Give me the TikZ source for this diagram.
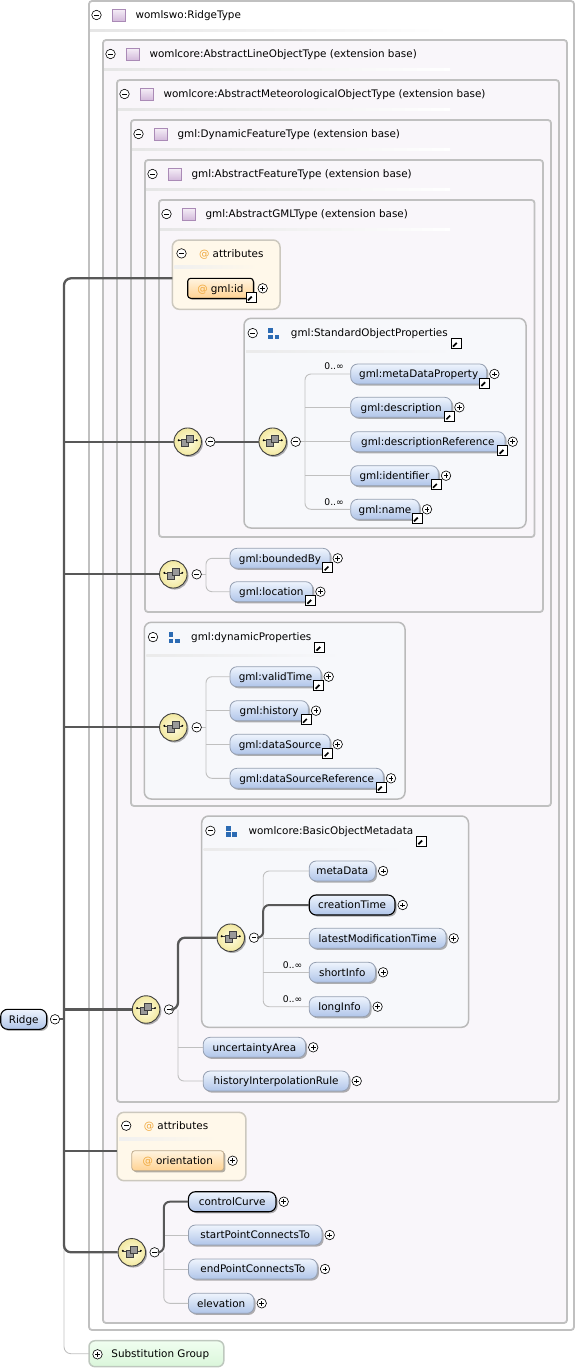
\documentclass[tikz,border=0pt]{standalone}
\usepackage{fontspec}
\setmainfont{DejaVu Sans}
\usetikzlibrary{shadows}
\definecolor{boxline}{RGB}{192,192,192}
\definecolor{boxfill}{RGB}{249,246,250}
\definecolor{grpline}{RGB}{186,186,186}
\definecolor{grpfill}{RGB}{247,248,251}
\definecolor{attline}{RGB}{204,200,190}
\definecolor{attfill}{RGB}{255,248,234}
\definecolor{attnode}{RGB}{190,170,140}
\definecolor{elemline}{RGB}{150,160,178}
\definecolor{elemtop}{RGB}{238,244,253}
\definecolor{elembot}{RGB}{176,197,233}
\definecolor{atttop}{RGB}{255,244,224}
\definecolor{attbot}{RGB}{255,210,146}
\definecolor{spinec}{RGB}{88,88,88}
\definecolor{branchc}{RGB}{192,192,192}
\definecolor{atorange}{RGB}{240,168,60}
\definecolor{grpblue}{RGB}{44,107,179}
\definecolor{icontop}{RGB}{244,236,246}
\definecolor{iconbot}{RGB}{210,184,218}
\definecolor{iconline}{RGB}{170,138,182}
\definecolor{subline}{RGB}{190,200,190}
\definecolor{subtop}{RGB}{240,254,240}
\definecolor{subbot}{RGB}{218,246,218}
\definecolor{scin}{RGB}{255,253,225}
\definecolor{scout}{RGB}{242,232,160}
\newcommand\efont{\fontsize{10.4pt}{12pt}\selectfont}
\newcommand\mfont{\fontsize{9.2pt}{11pt}\selectfont}
\tikzset{
  typebox/.style={draw=boxline, line width=1.8pt, fill=boxfill, rounded corners=3pt, anchor=north west, inner sep=0pt, outer sep=0pt},
  grpbox/.style={draw=grpline, line width=1.5pt, fill=grpfill, rounded corners=7pt, anchor=north west, inner sep=0pt, outer sep=0pt},
  attbox/.style={draw=attline, line width=1.5pt, fill=attfill, rounded corners=7pt, anchor=north west, inner sep=0pt, outer sep=0pt},
  subbox/.style={draw=subline, line width=1.5pt, top color=subtop, bottom color=subbot, rounded corners=6pt, anchor=north west, inner sep=0pt, outer sep=0pt},
  headtext/.style={anchor=west, inner sep=0pt, font=\efont, text height=7.4pt, text depth=0pt},
  elem/.style={draw=elemline, line width=0.8pt, rounded corners=7pt, top color=elemtop, bottom color=elembot, minimum height=20pt, inner sep=0pt, outer sep=0pt, font=\efont, text height=7.4pt, text depth=0pt, drop shadow={shadow xshift=1.6pt, shadow yshift=-1.6pt, fill=black, opacity=0.3}},
  reqd/.style={draw=black, line width=1.1pt},
  attr/.style={elem, rounded corners=3pt, top color=atttop, bottom color=attbot, draw=attnode},
  symbase/.style={circle, draw=black, fill=white, line width=0.6pt, minimum size=9.5pt, inner sep=0pt},
  collapsesym/.style={symbase, path picture={\draw[line width=0.7pt] ([xshift=-2.4pt]path picture bounding box.center) -- ([xshift=2.4pt]path picture bounding box.center);}},
  expandsym/.style={symbase, path picture={\draw[line width=0.7pt] ([xshift=-2.4pt]path picture bounding box.center) -- ([xshift=2.4pt]path picture bounding box.center) ([yshift=-2.4pt]path picture bounding box.center) -- ([yshift=2.4pt]path picture bounding box.center);}},
  linkicon/.style={draw=black, fill=white, line width=0.8pt, minimum size=10pt, inner sep=0pt, path picture={
      \draw[line width=1.7pt] ([shift={(-3pt,-3pt)}]path picture bounding box.center) -- ([shift={(1pt,1pt)}]path picture bounding box.center);
      \fill ([shift={(3.4pt,3.4pt)}]path picture bounding box.center) -- ([shift={(-1.6pt,3.4pt)}]path picture bounding box.center) -- ([shift={(3.4pt,-1.6pt)}]path picture bounding box.center) -- cycle;}},
  typeicon/.style={draw=iconline, line width=0.6pt, top color=icontop, bottom color=iconbot, minimum width=12.5pt, minimum height=12pt, inner sep=0pt},
  seqc/.style={circle, draw=black!75, line width=0.9pt, inner color=scin, outer color=scout, minimum size=27.5pt, inner sep=0pt, drop shadow={shadow xshift=1.5pt, shadow yshift=-1.5pt, fill=black, opacity=0.3}, path picture={
      \draw[line width=0.6pt] ([shift={(-9pt,1.5pt)}]path picture bounding box.center) -- ([shift={(9pt,1.5pt)}]path picture bounding box.center);
      \fill ([shift={(-9pt,1.5pt)}]path picture bounding box.center) circle (1.1pt);
      \fill ([shift={(9pt,1.5pt)}]path picture bounding box.center) circle (1.1pt);
      \filldraw[fill=black!40, draw=black!75, line width=0.5pt] ([shift={(-6pt,-5pt)}]path picture bounding box.center) rectangle ([shift={(1pt,2pt)}]path picture bounding box.center);
      \filldraw[fill=black!40, draw=black!75, line width=0.5pt] ([shift={(-1.5pt,-0.5pt)}]path picture bounding box.center) rectangle ([shift={(5.5pt,6.5pt)}]path picture bounding box.center);}},
  spine/.style={draw=spinec, line width=2.3pt},
  branch/.style={draw=branchc, line width=0.9pt},
  mult/.style={anchor=east, inner sep=0pt, font=\mfont, text height=6.5pt, text depth=0pt},
}
% header of a type box: name, left, top, title
\newcommand\typehead[4]{%
  \node[collapsesym] (#1c) at ({#2+7.5},{#3+14}) {};
  \node[typeicon] (#1i) at ({#2+29.7},{#3+14.5}) {};
  \node[headtext] (#1t) at ({#2+46.4},{#3+14}) {#4};
  \shade[left color=black!10, middle color=black!20, right color=white] ({#2+1},{#3+28}) rectangle (450,{#3+30.5});
}
% header of a group box: name, left, top, title, underline end
\newcommand\grphead[5]{%
  \node[collapsesym] (#1c) at ({#2+8.7},{#3+14.8}) {};
  \fill[grpblue] ({#2+24.3},{#3+10}) rectangle +(4.6,4.6);
  \fill[grpblue] ({#2+24.3},{#3+16.4}) rectangle +(4.6,4.6);
  \fill[grpblue] ({#2+30.7},{#3+16.4}) rectangle +(4.6,4.6);
  \node[headtext] (#1t) at ({#2+46.7},{#3+14.8}) {#4};
  \node[linkicon] (#1l) at ([xshift=8pt,yshift=-10.5pt]#1t.east) {};
  \shade[left color=black!8, middle color=black!16, right color=grpfill] ({#2+2},{#3+32}) rectangle (#5,{#3+34.5});
}
% header of an attribute box: name, left, top, underline end
\newcommand\atthead[4]{%
  \node[collapsesym] (#1c) at ({#2+9.2},{#3+13.4}) {};
  \node[headtext, text=atorange] (#1a) at ({#2+26.7},{#3+13.4}) {@};
  \node[headtext] (#1t) at ({#2+40.2},{#3+13.4}) {attributes};
  \shade[left color=black!6, middle color=black!14, right color=attfill] ({#2+2},{#3+25.5}) rectangle (#4,{#3+28});
}
% element: [opts] name, left x, centre y, width, text
\newcommand\elm[6][]{%
  \node[elem,#1,minimum width=#5pt,anchor=west] (#2) at (#3,#4) {#6};
  \node[expandsym] (#2x) at ([xshift=7.7pt]#2.east) {};
}
\newcommand\lnk[1]{\node[linkicon] (#1l) at ([xshift=-2.3pt,yshift=1pt]#1.south east) {};}
\begin{document}
\begin{tikzpicture}[x=1pt,y=-1pt]
\useasboundingbox (0,0) rectangle (576,1371);
% ---------- type boxes
\node[typebox, fill=white, minimum width=485pt, minimum height=1329pt] (b1) at (89,1) {};
\typehead{b1}{89}{1}{womlswo:RidgeType}
\node[typebox, minimum width=464pt, minimum height=1283pt] (b2) at (103,40) {};
\typehead{b2}{103}{40}{womlcore:AbstractLineObjectType (extension base)}
\node[typebox, minimum width=442pt, minimum height=1022pt] (b3) at (117,80) {};
\typehead{b3}{117}{80}{womlcore:AbstractMeteorologicalObjectType (extension base)}
\node[typebox, minimum width=420pt, minimum height=686pt] (b4) at (131,120) {};
\typehead{b4}{131}{120}{gml:DynamicFeatureType (extension base)}
\node[typebox, minimum width=398pt, minimum height=452pt] (b5) at (145,160) {};
\typehead{b5}{145}{160}{gml:AbstractFeatureType (extension base)}
\node[typebox, minimum width=375.5pt, minimum height=337pt] (b6) at (159,200) {};
\typehead{b6}{159}{200}{gml:AbstractGMLType (extension base)}
% ---------- attribute box 1
\node[attbox, minimum width=107.7pt, minimum height=69.3pt] (att1) at (172.3,240) {};
\atthead{att1}{172.3}{240}{257}
\node[attr, reqd, minimum width=65.6pt, anchor=west] (gmlid) at (187.7,288.3) {{\color{atorange}@}\hspace{3pt}gml:id};
\node[expandsym] (gmlidx) at ([xshift=9.4pt]gmlid.east) {};
\lnk{gmlid}
% ---------- StandardObjectProperties
\node[grpbox, minimum width=282pt, minimum height=209.7pt] (sop) at (244,318.3) {};
\grphead{sop}{244}{318.3}{gml:StandardObjectProperties}{453}
\node[seqc] (sc1) at (187.7,441.7) {};
\node[collapsesym] (sc1m) at (210.3,441.7) {};
\node[seqc] (sc2) at (272.7,441.7) {};
\node[collapsesym] (sc2m) at (295.7,441.7) {};
\elm{mdp}{350.7}{374}{136}{gml:metaDataProperty}\lnk{mdp}
\elm{desc}{350.7}{407.3}{101}{gml:description}\lnk{desc}
\elm{descref}{350.7}{441.7}{154.3}{gml:descriptionReference}\lnk{descref}
\elm{ident}{350.7}{475.7}{87.6}{gml:identifier}\lnk{ident}
\elm{name}{350.7}{509.3}{68.6}{gml:name}\lnk{name}
\node[mult] (mult1) at (344,366) {0..∞};
\node[mult] (mult2) at (344,502.7) {0..∞};
% ---------- boundedBy / location
\node[seqc] (sc3) at (173.3,574.3) {};
\node[collapsesym] (sc3m) at (196.7,574.3) {};
\elm{bby}{230}{558.3}{100}{gml:boundedBy}\lnk{bby}
\elm{loc}{230}{591.7}{82.7}{gml:location}\lnk{loc}
% ---------- dynamicProperties
\node[grpbox, minimum width=260.7pt, minimum height=176.7pt] (dyn) at (144.3,622.3) {};
\grphead{dyn}{144.3}{622.3}{gml:dynamicProperties}{342}
\node[seqc] (sc4) at (173.3,727.3) {};
\node[collapsesym] (sc4m) at (196.7,727.3) {};
\elm{vt}{230}{676.7}{91}{gml:validTime}\lnk{vt}
\elm{hist}{230}{710.7}{78.3}{gml:history}\lnk{hist}
\elm{ds}{230}{744.3}{100}{gml:dataSource}\lnk{ds}
\elm{dsr}{230}{778.3}{153.3}{gml:dataSourceReference}\lnk{dsr}
% ---------- BasicObjectMetadata
\node[grpbox, minimum width=266.8pt, minimum height=211.3pt] (bom) at (201.7,816) {};
\grphead{bom}{201.7}{816}{womlcore:BasicObjectMetadata}{405}
\node[seqc] (sc5) at (146.1,1009.5) {};
\node[collapsesym] (sc5m) at (169,1009.5) {};
\node[seqc] (sc6) at (230.8,937.7) {};
\node[collapsesym] (sc6m) at (254,937.7) {};
\elm{md}{309.2}{871}{66.2}{metaData}
\elm[reqd]{ct}{309.2}{905}{85.8}{creationTime}
\elm{lmt}{309.2}{938.3}{136.8}{latestModificationTime}
\elm{si}{309.2}{972.3}{66.2}{shortInfo}
\elm{li}{309.2}{1006.7}{60.7}{longInfo}
\node[mult] (mult3) at (302.5,965) {0..∞};
\node[mult] (mult4) at (302.5,999.3) {0..∞};
\elm{ua}{203.2}{1047.3}{102.3}{uncertaintyArea}
\elm{hir}{203.2}{1081}{145.8}{historyInterpolationRule}
% ---------- attribute box 2
\node[attbox, minimum width=128.9pt, minimum height=68.4pt] (att2) at (117,1112.3) {};
\atthead{att2}{117}{1112.3}{217}
\node[attr, minimum width=92pt, anchor=west] (orient) at (131.8,1160.7) {{\color{atorange}@}\hspace{3pt}orientation};
\node[expandsym] (orientx) at ([xshift=8.8pt]orient.east) {};
% ---------- last sequence
\node[seqc] (sc7) at (131.8,1252.3) {};
\node[collapsesym] (sc7m) at (154.6,1252.3) {};
\elm[reqd]{cc}{188.4}{1201.7}{87.6}{controlCurve}
\elm{spct}{188.4}{1235}{133.6}{startPointConnectsTo}
\elm{epct}{188.4}{1269}{128.9}{endPointConnectsTo}
\elm{elev}{188.4}{1303.3}{65.6}{elevation}
% ---------- root element and substitution group
\node[elem, reqd, minimum width=46pt, anchor=west] (ridge) at (0.7,1019.3) {Ridge};
\node[collapsesym] (ridgem) at (55,1019.3) {};
\node[subbox, minimum width=134.8pt, minimum height=26pt] (subst) at (89,1340.7) {};
\node[expandsym] (substx) at (97.5,1354.3) {};
\node[headtext] (substt) at (111.2,1354) {Substitution Group};
% ---------- connectors
\coordinate (spTop) at (64,278.3);
\coordinate (spBot) at (64,1252.3);
\coordinate (a2in) at (117,1150.7);
\draw[branch, rounded corners=7pt] ([yshift=7pt]spBot) -- (spTop |- subst.west) -- (subst.west);
\draw[spine, rounded corners=7pt] (att1.west |- spTop) -- (spTop) -- (spBot) -- (sc7.west);
\draw[spine] (spTop |- sc1.west) -- (sc1.west);
\draw[spine] (spTop |- sc3.west) -- (sc3.west);
\draw[spine] (spTop |- sc4.west) -- (sc4.west);
\draw[spine] (spTop |- sc5.west) -- (sc5.west);
\draw[spine] (spTop |- a2in) -- (att2.west |- a2in);
\draw[spine] (ridgem.east) -- (spTop |- ridgem.east);
\draw[spine] (sc1m.east) -- (sc2.west);
% sc2
\coordinate (br2) at (305,441.7);
\draw[branch] (sc2m.east) -- (br2);
\draw[branch, rounded corners=6pt] (mdp.west) -| (br2) |- (name.west);
\draw[branch] (br2 |- desc.west) -- (desc.west);
\draw[branch] (br2 |- descref.west) -- (descref.west);
\draw[branch] (br2 |- ident.west) -- (ident.west);
% sc3
\coordinate (br3) at (206,574.3);
\draw[branch] (sc3m.east) -- (br3);
\draw[branch, rounded corners=6pt] (bby.west) -| (br3) |- (loc.west);
% sc4
\coordinate (br4) at (206,727.3);
\draw[branch] (sc4m.east) -- (br4);
\draw[branch, rounded corners=6pt] (vt.west) -| (br4) |- (dsr.west);
\draw[branch] (br4 |- hist.west) -- (hist.west);
\draw[branch] (br4 |- ds.west) -- (ds.west);
% sc5
\coordinate (br5) at (178,1009.5);
\draw[branch, rounded corners=6pt] (br5) |- (hir.west);
\draw[branch] (br5 |- ua.west) -- (ua.west);
\draw[spine, rounded corners=7pt] (sc5m.east) -- (br5) |- (sc6.west);
% sc6
\coordinate (br6) at (263.2,937.7);
\draw[branch, rounded corners=6pt] (md.west) -| (br6) |- (li.west);
\draw[branch] (br6 |- lmt.west) -- (lmt.west);
\draw[branch] (br6 |- si.west) -- (si.west);
\draw[spine, line width=2pt, rounded corners=6pt] (sc6m.east) -- (br6) |- (ct.west);
% sc7
\coordinate (br7) at (163.8,1252.3);
\draw[branch, rounded corners=6pt] (br7) |- (elev.west);
\draw[branch] (br7 |- spct.west) -- (spct.west);
\draw[branch] (br7 |- epct.west) -- (epct.west);
\draw[spine, line width=2pt, rounded corners=6pt] (sc7m.east) -- (br7) |- (cc.west);
\end{tikzpicture}
\end{document}
